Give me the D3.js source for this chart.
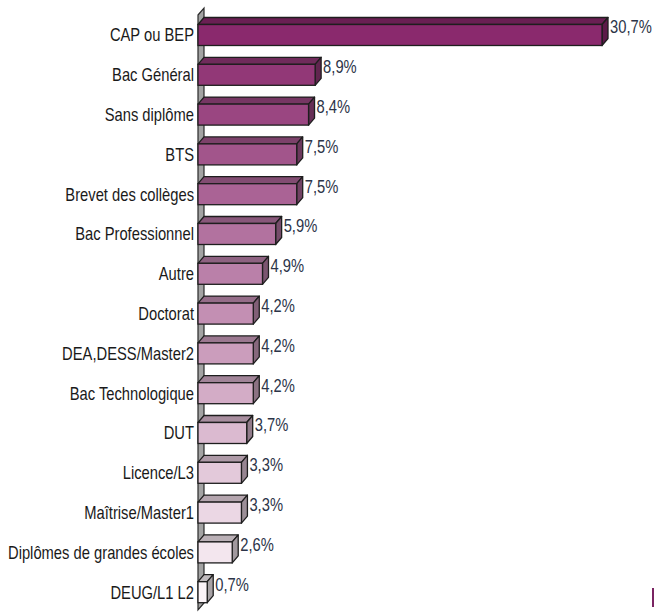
<!DOCTYPE html>
<html><head><meta charset="utf-8">
<script src="https://cdn.jsdelivr.net/npm/d3@7"></script>
<style>body{margin:0;background:#fff}</style>
</head><body>
<svg id="c" width="654" height="614"></svg>
<script>
const categories = ["CAP ou BEP","Bac Général","Sans diplôme","BTS","Brevet des collèges","Bac Professionnel","Autre","Doctorat","DEA,DESS/Master2","Bac Technologique","DUT","Licence/L3","Maîtrise/Master1","Diplômes de grandes écoles","DEUG/L1 L2"];
const values = [30.7,8.9,8.4,7.5,7.5,5.9,4.9,4.2,4.2,4.2,3.7,3.3,3.3,2.6,0.7];
const valueLabels = ["30,7%","8,9%","8,4%","7,5%","7,5%","5,9%","4,9%","4,2%","4,2%","4,2%","3,7%","3,3%","3,3%","2,6%","0,7%"];

const svg = d3.select("#c");
const x = d3.scaleLinear().domain([0, 30.7]).range([198, 602]);
const y = d3.scaleBand().domain(categories).range([15.1, 612.1]).padding(0);
const barH = 21, dx = 6, dy = -7;
const col = d3.scaleLinear().domain([0, categories.length - 1]).range(["#8a296d", "#fbf4f8"]).interpolate(d3.interpolateRgb);
const font = "'Liberation Sans',Arial,sans-serif";
const narrow = 0.82;

// axis wall
const x0 = x(0);
svg.append("polygon")
  .attr("points", [[x0, 15], [x0 + dx, 8], [x0 + dx, 603], [x0, 610]].map(p => p.join(",")).join(" "))
  .attr("fill", "#a3a3a3").attr("stroke", "#2a2a2a").attr("stroke-width", 1.2);

const g = svg.append("g");
categories.forEach((c, i) => {
  const cy = y(c) + y.bandwidth() / 2;
  const top = cy - barH / 2, bot = cy + barH / 2;
  const xl = x(0), xr = x(values[i]);
  const front = d3.color(col(i));
  const topC = front.darker(0.75), sideC = front.darker(1.15);
  const pts = a => a.map(p => p.join(",")).join(" ");
  g.append("polygon").attr("points", pts([[xl, top], [xl + dx, top + dy], [xr + dx, top + dy], [xr, top]]))
    .attr("fill", topC).attr("stroke", "#1e1e1e").attr("stroke-width", 1.3).attr("stroke-linejoin", "round");
  g.append("polygon").attr("points", pts([[xr, top], [xr + dx, top + dy], [xr + dx, bot + dy], [xr, bot]]))
    .attr("fill", sideC).attr("stroke", "#1e1e1e").attr("stroke-width", 1.3).attr("stroke-linejoin", "round");
  g.append("rect").attr("x", xl).attr("y", top).attr("width", xr - xl).attr("height", barH)
    .attr("fill", front).attr("stroke", "#1e1e1e").attr("stroke-width", 1.3);
  svg.append("text").attr("transform", `translate(194,${cy}) scale(${narrow},1)`).attr("dy", "0.36em")
    .attr("text-anchor", "end").attr("font-family", font).attr("font-size", 18)
    .attr("fill", "#1a1a1a").text(c);
  svg.append("text").attr("transform", `translate(${xr + dx + 2},${cy - 8}) scale(${narrow},1)`).attr("dy", "0.36em")
    .attr("font-family", font).attr("font-size", 18)
    .attr("fill", "#2c3448").text(valueLabels[i]);
});

svg.append("rect").attr("x", 652).attr("y", 588).attr("width", 2).attr("height", 19).attr("fill", "#7a2462");
</script>
</body></html>
